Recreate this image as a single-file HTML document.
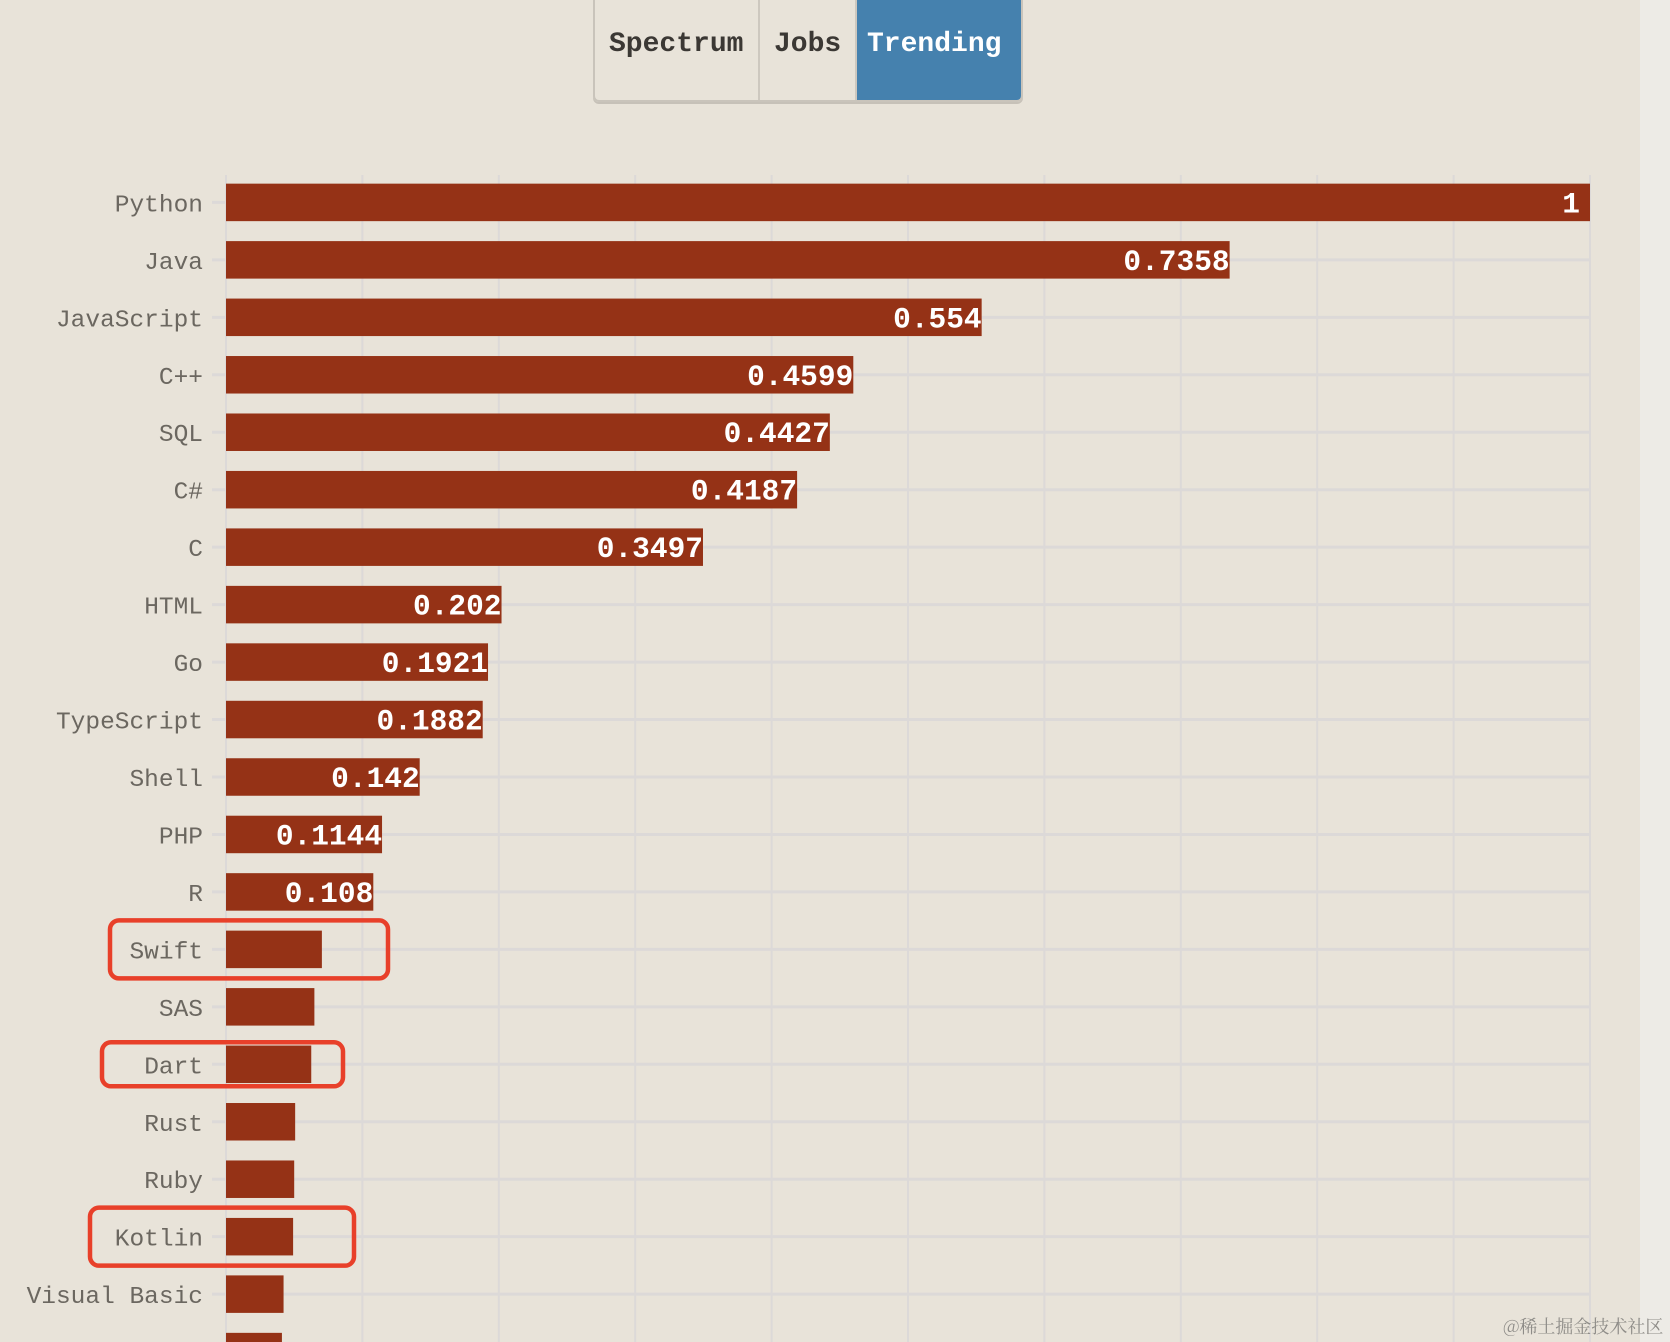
<!DOCTYPE html>
<html><head><meta charset="utf-8">
<style>
html,body{margin:0;padding:0;background:#e8e3d9;}
body{width:1670px;height:1342px;position:relative;overflow:hidden;font-family:"Liberation Mono",monospace;}
#strip{position:absolute;left:1640px;top:0;width:30px;height:1342px;background:#edebe6;}
.tabs{position:absolute;left:593px;top:-3px;height:103px;display:flex;border:2px solid #c9c4bb;border-top:none;border-radius:0 0 6px 6px;overflow:hidden;box-shadow:0 2px 0 #c6c1b8;}
.tab{height:103px;line-height:96px;font-weight:bold;font-size:28px;color:#3b3834;padding:0 14px;border-right:2px solid #cdc8bf;}
.tab.active{background:#4581ae;color:#fff;border-right:none;padding:0 10px;}
#wm{position:absolute;left:1503px;top:1313px;white-space:nowrap;font-family:"Noto Serif CJK SC","Liberation Serif",serif;font-size:18px;color:#8e8c88;}
</style></head><body>
<div id="strip"></div>
<div class="tabs">
  <div class="tab" style="width:135px">Spectrum</div>
  <div class="tab" style="width:67px">Jobs</div>
  <div class="tab active" style="width:144px">Trending</div>
</div>
<svg id="chart" width="1670" height="1342" style="position:absolute;left:0;top:0"></svg>
<div id="wm">@稀土掘金技术社区</div>
<script>
const categories=["Python","Java","JavaScript","C++","SQL","C#","C","HTML","Go","TypeScript","Shell","PHP","R","Swift","SAS","Dart","Rust","Ruby","Kotlin","Visual Basic","Other"];
const values=[1,0.7358,0.554,0.4599,0.4427,0.4187,0.3497,0.202,0.1921,0.1882,0.142,0.1144,0.108,0.0703,0.0648,0.0625,0.0507,0.05,0.0492,0.0422,0.041];
const valueLabels=["1","0.7358","0.554","0.4599","0.4427","0.4187","0.3497","0.202","0.1921","0.1882","0.142","0.1144","0.108","","","","","","","",""];
const xTicks=[0,0.1,0.2,0.3,0.4,0.5,0.6,0.7,0.8,0.9,1];
const highlighted=["Swift","Dart","Kotlin"];
const X0=226,X1=1590,Y0=202.4,STEP=57.46,BH=37.5;
const x=v=>X0+(X1-X0)*v;
const y=i=>Y0+STEP*i;
const svg=document.getElementById('chart');
const NS='http://www.w3.org/2000/svg';
function mk(t,a){const e=document.createElementNS(NS,t);for(const k in a)e.setAttribute(k,a[k]);svg.appendChild(e);return e;}
xTicks.forEach(t=>{
  const l=mk('line',{x1:x(t),x2:x(t),y1:175,y2:1342,stroke:'#dcd9d8','stroke-width':2});
  
  
});
categories.forEach((c,i)=>{
  const l=mk('line',{x1:212,x2:X1,y1:y(i),y2:y(i),stroke:'#dcd9d8','stroke-width':3});
  
  
});
categories.forEach((c,i)=>{
  const r=mk('rect',{x:X0,y:y(i)-BH/2,width:x(values[i])-X0,height:BH,fill:'#953216'});
  
  
  if(c!=="Other"){
    const t=mk('text',{x:203,y:y(i)+9,'text-anchor':'end','font-size':24.5,fill:'#6b6760','font-family':'Liberation Mono, monospace'});
    t.textContent=c;
    
    
  }
  if(valueLabels[i]){
    const v=mk('text',{x:x(values[i])-(i===0?10:0),y:y(i)+10,'text-anchor':'end','font-size':29.5,'font-weight':'bold',fill:'#ffffff','font-family':'Liberation Mono, monospace'});
    v.textContent=valueLabels[i];
    
    
  }
  if(highlighted.includes(c)){
    const bx={Swift:[110,388],Dart:[102,343],Kotlin:[90,354]}[c];
    const h=c==="Dart"?44:58;
    const b=mk('rect',{x:bx[0],y:y(i)-h/2,width:bx[1]-bx[0],height:h,rx:9,fill:'none',stroke:'#e8402a','stroke-width':4.5});
    
    
  }
});
</script>
</body></html>
